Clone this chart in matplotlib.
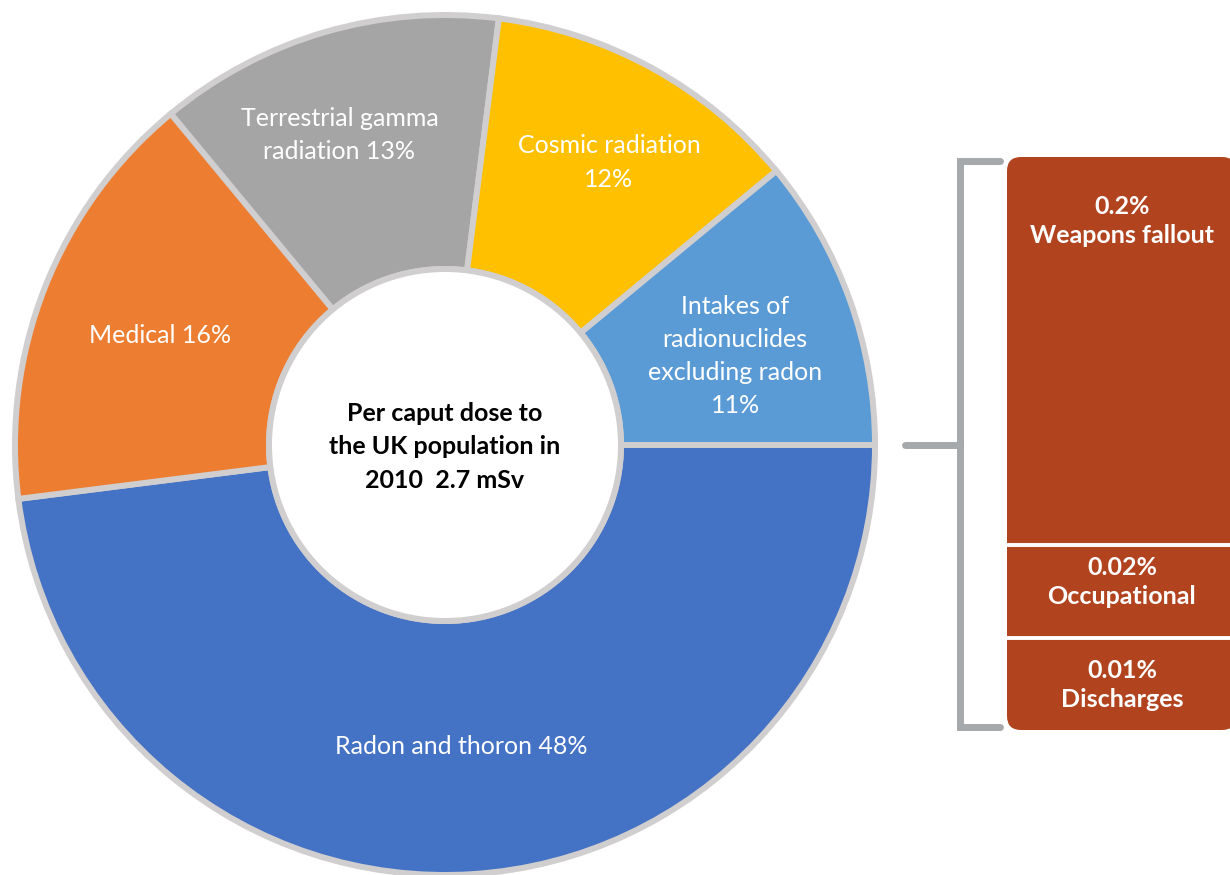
import matplotlib
matplotlib.use("Agg")
import matplotlib.pyplot as plt
import numpy as np
from matplotlib.patches import FancyBboxPatch, Circle

plt.rcParams['font.family'] = ['Lato', 'DejaVu Sans']

# main sources of dose, percent of the total
labels = ['Radon and thoron {}%', 'Medical {}%', 'Terrestrial gamma\nradiation {}%',
          'Cosmic radiation\n{}%', 'Intakes of\nradionuclides\nexcluding radon\n{}%']
shares = [48, 16, 13, 12, 11]
colors = ['#4472C4', '#ED7D31', '#A5A5A5', '#FFC000', '#5B9BD5']

# small contributions shown in the side panel
minor_labels = ['Weapons fallout', 'Occupational', 'Discharges']
minor_shares = [0.2, 0.02, 0.01]

centre_text = 'Per caput dose to\nthe UK population in\n2010  2.7 mSv'

W, H = 1230, 875
fig = plt.figure(figsize=(W / 100, H / 100), dpi=100)
ax = fig.add_axes([0, 0, 1, 1])

cx, cy = 445, H - 445
r_out, r_in = 430, 176
edge = '#D0CECE'

wedges, _ = ax.pie(shares, center=(cx, cy), radius=r_out, startangle=0,
                   counterclock=False, colors=colors,
                   wedgeprops=dict(width=r_out - r_in, edgecolor=edge, linewidth=4.3))
ax.add_patch(Circle((cx, cy), r_in, facecolor='white', edgecolor=edge, linewidth=4.3, zorder=3))

# labels sit mid-ring, nudged (px) so they clear the wedge edges
r_lab = (r_out + r_in) / 2
nudges = [(-3, 1), (-3, -2), (-21, 19), (18, 17), (5, -14)]
for w, lab, s, (dx, dy) in zip(wedges, labels, shares, nudges):
    mid = np.deg2rad((w.theta1 + w.theta2) / 2)
    ax.text(cx + r_lab * np.cos(mid) + dx, cy + r_lab * np.sin(mid) + dy, lab.format(s),
            ha='center', va='center', color='white', fontsize=18,
            linespacing=1.53, zorder=4)

ax.text(cx, cy - 2, centre_text, ha='center', va='center', fontsize=18,
        fontweight='bold', linespacing=1.54, zorder=4)

# side panel with the minor sources
px0, px1 = 1007, 1236
ptop, pbot = H - 157, H - 730
row_weights = [4.2, 1, 1]
bar_col = '#B1431E'
ax.add_patch(FancyBboxPatch((px0, pbot), px1 - px0, ptop - pbot,
                            boxstyle='round,pad=0,rounding_size=14',
                            facecolor=bar_col, edgecolor='none', zorder=2))
bounds = ptop - np.concatenate([[0], np.cumsum(row_weights)]) / sum(row_weights) * (ptop - pbot)
for b in bounds[1:-1]:
    ax.plot([px0, px1], [b, b], color='white', linewidth=2.8, zorder=3)

tops = [H - 221, H - 582, H - 685]
for y, lab, v in zip(tops, minor_labels, minor_shares):
    ax.text(1122, y, f'{v}%\n{lab}', ha='center', va='center',
            color='white', fontsize=18, fontweight='bold', linespacing=1.33, zorder=4)

# bracket joining the ring to the panel
br = '#A5A9AC'
bx = 960
ax.plot([1000, bx, bx, 1000], [H - 160.5, H - 160.5, H - 727, H - 727],
        color=br, linewidth=5, solid_capstyle='round', solid_joinstyle='miter', zorder=2)
ax.plot([905, bx], [H - 445, H - 445], color=br, linewidth=5,
        solid_capstyle='round', zorder=2)

ax.set_xlim(0, W)
ax.set_ylim(0, H)
ax.set_aspect('auto')
ax.axis('off')

fig.savefig('out.png', dpi=100)
